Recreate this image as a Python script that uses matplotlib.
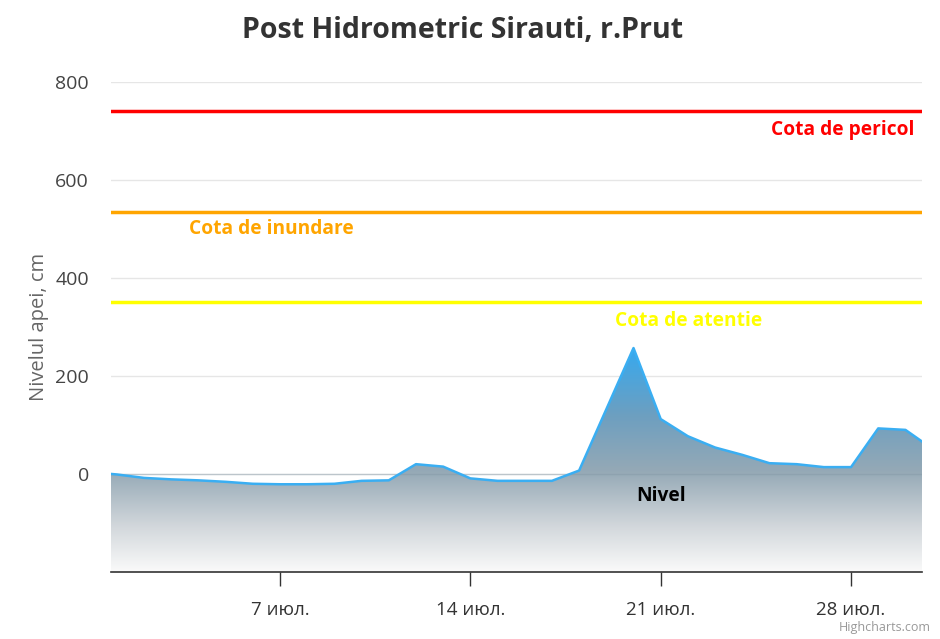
import datetime as dt

import matplotlib
matplotlib.use("Agg")
import matplotlib.pyplot as plt
import matplotlib.dates as mdates
import numpy as np
from matplotlib.colors import LinearSegmentedColormap

# daily water level, cm (30 iun. .. 31 iul.)
dates = [dt.datetime(2020, 6, 30) + dt.timedelta(days=i) for i in range(32)]
nivel = [4, -1, -8, -11, -13, -16, -20, -21, -21, -20, -14, -13, 20, 15,
         -9, -14, -14, -14, 7, 132, 257, 112, 77, 54, 39, 22, 20, 14, 14,
         93, 90, 51]

# threshold levels
cote = [("Cota de pericol", 740, "#ff0000"),
        ("Cota de inundare", 535, "#ffa500"),
        ("Cota de atentie", 350, "#ffff00")]

tick_days = [7, 14, 21, 28]
tick_labels = ["7 июл.", "14 июл.", "21 июл.", "28 июл."]

plt.rcParams["font.family"] = ["Open Sans", "DejaVu Sans"]

fig = plt.figure(figsize=(9.4, 6.39), dpi=100)
ax = fig.add_axes([0.1181, 0.1049, 0.8628, 0.7668])

x = mdates.date2num(dates)
ymin, ymax = -200, 800

# gradient area
poly = ax.fill_between(x, nivel, ymin, color="none", lw=0)
cmap = LinearSegmentedColormap.from_list(
    "niv", [(0.0, "#fafafa"), (0.2, "#d3d8dc"), (0.45, "#95a9b6"),
            (0.7, "#6d9fc0"), (1.0, "#36a9ef")])
grad = np.linspace(0, 1, 256).reshape(-1, 1)
img = ax.imshow(grad, cmap=cmap, origin="lower", aspect="auto",
                extent=[x[0], x[-1], ymin, max(nivel)], zorder=2)
img.set_clip_path(poly.get_paths()[0], transform=ax.transData)
ax.plot(x, nivel, color="#3aaef2", lw=1.8, zorder=3)

for label, val, col in cote:
    ax.axhline(val, color=col, lw=2.5, zorder=4)

lab_style = dict(fontsize=13.8, fontweight="bold", zorder=5)
ax.text(mdates.date2num(dt.datetime(2020, 7, 30, 8)), 703, cote[0][0],
        color=cote[0][2], ha="right", va="center", **lab_style)
ax.text(mdates.date2num(dt.datetime(2020, 7, 3, 16)), 499, cote[1][0],
        color=cote[1][2], ha="left", va="center", **lab_style)
ax.text(mdates.date2num(dt.datetime(2020, 7, 22, 1)), 313, cote[2][0],
        color=cote[2][2], ha="center", va="center", **lab_style)
ax.text(mdates.date2num(dt.datetime(2020, 7, 21)), -45, "Nivel",
        color="black", ha="center", va="center", **lab_style)

ax.set_xlim(mdates.date2num(dt.datetime(2020, 6, 30, 18, 50)),
            mdates.date2num(dt.datetime(2020, 7, 30, 14, 40)))
ax.set_ylim(ymin, ymax)

ax.set_xticks([mdates.date2num(dt.datetime(2020, 7, d)) for d in tick_days])
ax.set_xticklabels(tick_labels)
ax.set_yticks([0, 200, 400, 600, 800])
ax.set_yticklabels(["0", "200", "400", "600", "800"])
for yv in [0, 200, 400, 600, 800]:
    ax.axhline(yv, color="#e6e6e6", lw=1, zorder=1)
# gridline at 0 seen through the area
ax.axhline(0, color="#7f95a3", lw=1, alpha=0.4, zorder=2.5)

for s in ["top", "right", "left"]:
    ax.spines[s].set_visible(False)
ax.spines["bottom"].set_color("#333333")
ax.spines["bottom"].set_linewidth(1.2)
ax.tick_params(axis="x", length=10, width=1, color="#333333",
               labelsize=13.5, labelcolor="#333333", pad=11)
ax.tick_params(axis="y", length=0, labelsize=14, labelcolor="#444444", pad=16)
ax.set_ylabel("Nivelul apei, cm", fontsize=14.5, color="#666666", labelpad=4)

fig.text(0.492, 0.953, "Post Hidrometric Sirauti, r.Prut", ha="center",
         va="center", fontsize=20.5, fontweight="bold", color="#333333")
fig.text(0.99, 0.008, "Highcharts.com", ha="right", va="bottom",
         fontsize=9, color="#999999")

fig.savefig("out.png", dpi=100)
